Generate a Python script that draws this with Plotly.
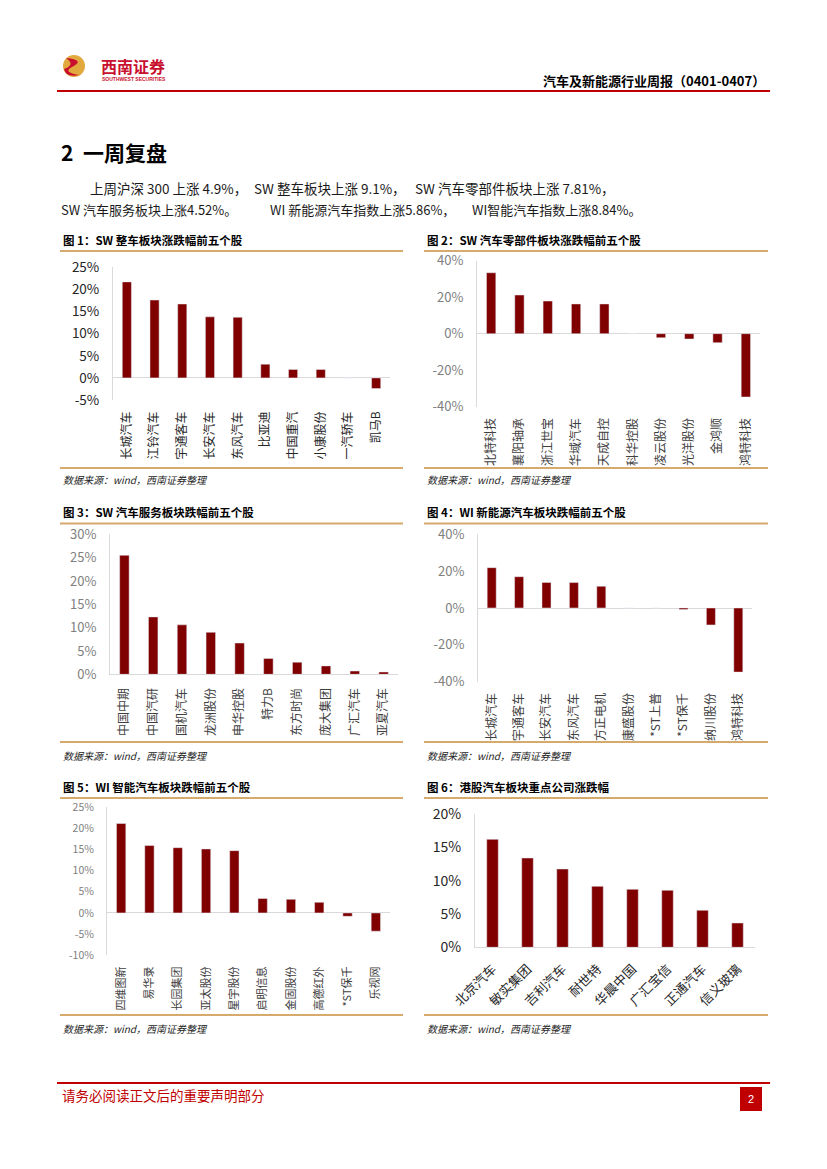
import plotly.graph_objects as go

W, H = 827, 1169

# ---------------- data ----------------
c1_names = ["长城汽车", "江铃汽车", "宇通客车", "长安汽车", "东风汽车", "比亚迪", "中国重汽", "小康股份", "一汽轿车", "凯马B"]
c1_vals = [21.7, 17.6, 16.7, 13.8, 13.7, 3.1, 1.9, 1.9, 0.0, -2.4]

c2_names = ["北特科技", "襄阳轴承", "浙江世宝", "华域汽车", "天成自控", "科华控股", "凌云股份", "光洋股份", "金鸿顺", "鸿特科技"]
c2_vals = [33.4, 21.2, 17.9, 16.3, 16.3, 0.0, -2.2, -2.9, -4.9, -34.7]

c3_names = ["中国中期", "中国汽研", "国机汽车", "龙洲股份", "申华控股", "特力B", "东方时尚", "庞大集团", "广汇汽车", "亚夏汽车"]
c3_vals = [25.5, 12.3, 10.6, 9.0, 6.7, 3.4, 2.6, 1.8, 0.7, 0.5]

c4_names = ["长城汽车", "宇通客车", "长安汽车", "东风汽车", "方正电机", "康盛股份", "*ST上普", "*ST保千", "纳川股份", "鸿特科技"]
c4_vals = [21.9, 17.0, 13.9, 13.8, 11.8, 0.0, 0.0, -0.8, -9.2, -34.8]

c5_names = ["四维图新", "易华录", "长园集团", "亚太股份", "星宇股份", "启明信息", "金固股份", "高德红外", "*ST保千", "乐视网"]
c5_vals = [21.1, 15.9, 15.4, 15.1, 14.7, 3.4, 3.2, 2.5, -0.8, -4.3]

c6_names = ["北京汽车", "敏实集团", "吉利汽车", "耐世特", "华晨中国", "广汇宝信", "正通汽车", "信义玻璃"]
c6_vals = [16.2, 13.4, 11.75, 9.15, 8.7, 8.55, 5.55, 3.65]

y1_ticks = [-5, 0, 5, 10, 15, 20, 25]
y2_ticks = [-40, -20, 0, 20, 40]
y3_ticks = [0, 5, 10, 15, 20, 25, 30]
y4_ticks = [-40, -20, 0, 20, 40]
y5_ticks = [-10, -5, 0, 5, 10, 15, 20, 25]
y6_ticks = [0, 5, 10, 15, 20]

chart_titles = [
    "图 1：SW 整车板块涨跌幅前五个股",
    "图 2：SW 汽车零部件板块涨跌幅前五个股",
    "图 3：SW 汽车服务板块跌幅前五个股",
    "图 4：WI 新能源汽车板块跌幅前五个股",
    "图 5：WI 智能汽车板块跌幅前五个股",
    "图 6：港股汽车板块重点公司涨跌幅",
]
source_text = "数据来源：wind，西南证券整理"

# ---------------- helpers ----------------
FONT = "Noto Sans CJK SC"
BAR = "#800000"
AXIS = "#d9d9d9"
GOLD = "#D6AA6C"
RED = "#C00000"


def px(x):
    return x / W


def py(y):
    return 1 - y / H


fig = go.Figure()

charts = [
    (c1_names, c1_vals, y1_ticks, 113, 390, 267.3, 400.0, 12, "#262626", 13.5, "#262626", -90),
    (c2_names, c2_vals, y2_ticks, 477, 760, 260.7, 406.7, 12, "#404040", 13, "#808080", -90),
    (c3_names, c3_vals, y3_ticks, 110, 398, 534.3, 674.3, 12, "#404040", 13, "#808080", -90),
    (c4_names, c4_vals, y4_ticks, 478, 752, 534.3, 681.7, 12, "#404040", 13, "#808080", -90),
    (c5_names, c5_vals, y5_ticks, 107, 390, 807.0, 955.3, 11, "#404040", 10.5, "#808080", -90),
    (c6_names, c6_vals, y6_ticks, 475, 755, 814.0, 947.3, 13, "#262626", 14, "#262626", -45),
]

layout_axes = {}
for i, (names, vals, ticks, x0, x1, yt, yb, xf, xc, yf, yc, ang) in enumerate(charts, start=1):
    sx = "" if i == 1 else str(i)
    fig.add_trace(go.Bar(
        x=names, y=vals, marker_color=BAR, xaxis="x" + sx, yaxis="y" + sx,
        showlegend=False, hoverinfo="skip",
    ))
    bottom_zero = min(ticks) == 0
    layout_axes["xaxis" + sx] = dict(
        domain=[px(x0), px(x1)], anchor="y" + sx, type="category",
        range=[-0.5, len(names) - 0.5], tickangle=ang,
        tickfont=dict(family=FONT, size=xf, color=xc),
        showline=bottom_zero, linecolor=AXIS, linewidth=1, automargin=False,
        showgrid=False, ticks="", ticklabelstandoff=8, fixedrange=True,
    )
    layout_axes["yaxis" + sx] = dict(
        domain=[py(yb), py(yt)], anchor="x" + sx,
        range=[min(ticks), max(ticks)], tickvals=ticks,
        ticktext=[f"{t}%" for t in ticks],
        tickfont=dict(family=FONT, size=yf, color=yc),
        showline=True, linecolor=AXIS, linewidth=1, automargin=False,
        zeroline=True, zerolinecolor=AXIS, zerolinewidth=1,
        showgrid=False, ticks="", ticklabelstandoff=10, fixedrange=True,
    )

shapes = []
annotations = []

# header
shapes.append(dict(type="line", xref="paper", yref="paper", x0=px(57), x1=px(770), y0=py(91), y1=py(91),
                   line=dict(color=RED, width=2)))
shapes.append(dict(type="circle", xref="paper", yref="paper", x0=px(63), x1=px(85), y0=py(77), y1=py(55),
                   fillcolor="#E2A93E", line=dict(width=0)))
shapes.append(dict(type="path", xref="paper", yref="paper",
                   path=f"M {px(66)},{py(58)} Q {px(86)},{py(60)} {px(72)},{py(67)} Q {px(62)},{py(72)} {px(79)},{py(75)} "
                        f"Q {px(66)},{py(78)} {px(64)},{py(69)} Q {px(76)},{py(65)} {px(66)},{py(58)} Z",
                   fillcolor="#C8102E", line=dict(width=0)))
annotations.append(dict(text="西南证券", x=px(99), y=py(66), xref="paper", yref="paper", xanchor="left",
                        yanchor="middle", showarrow=False,
                        font=dict(family=FONT, size=16, color="#C8102E", weight="bold")))
annotations.append(dict(text="SOUTHWEST SECURITIES", x=px(100), y=py(79), xref="paper", yref="paper",
                        xanchor="left", yanchor="middle", showarrow=False,
                        font=dict(family="Liberation Sans", size=5, color="#C8102E", weight="bold")))
annotations.append(dict(text="汽车及新能源行业周报（0401-0407）", x=px(767), y=py(81), xref="paper", yref="paper",
                        xanchor="right", yanchor="middle", showarrow=False,
                        font=dict(family=FONT, size=13, color="#000000", weight="bold")))

annotations.append(dict(text="2  一周复盘", x=px(59), y=py(152), xref="paper", yref="paper", xanchor="left",
                        yanchor="middle", showarrow=False,
                        font=dict(family=FONT, size=21, color="#000000", weight="bold")))
para = [
    ("上周沪深 300 上涨 4.9%，", 88, 188, 13.5), ("SW 整车板块上涨 9.1%，", 252, 188, 13.5),
    ("SW 汽车零部件板块上涨 7.81%，", 413, 188, 13.5),
    ("SW 汽车服务板块上涨4.52%。", 59, 209, 13), ("WI 新能源汽车指数上涨5.86%，", 268, 209, 13),
    ("WI智能汽车指数上涨8.84%。", 470, 209, 13),
]
for t, x, y, fs in para:
    annotations.append(dict(text=t, x=px(x), y=py(y), xref="paper", yref="paper", xanchor="left",
                            yanchor="middle", showarrow=False,
                            font=dict(family=FONT, size=fs, color="#1a1a1a")))

rows = [(240, 251, 468, 479.5), (512, 523.5, 742, 755), (787, 798, 1015, 1028)]
cols = [(60, 403), (424, 768)]
k = 0
for (ty, l1, l2, sy) in rows:
    for (cx0, cx1) in cols:
        annotations.append(dict(text=chart_titles[k], x=px(cx0 + 1), y=py(ty), xref="paper", yref="paper",
                                xanchor="left", yanchor="middle", showarrow=False,
                                font=dict(family=FONT, size=11.5, color="#000000", weight="bold")))
        annotations.append(dict(text=source_text, x=px(cx0 + 1), y=py(sy), xref="paper", yref="paper",
                                xanchor="left", yanchor="middle", showarrow=False,
                                font=dict(family=FONT, size=10, color="#262626", style="italic")))
        for ly in (l1, l2):
            shapes.append(dict(type="line", xref="paper", yref="paper", x0=px(cx0), x1=px(cx1),
                               y0=py(ly), y1=py(ly), line=dict(color=GOLD, width=2)))
        k += 1

shapes.append(dict(type="line", xref="paper", yref="paper", x0=px(57), x1=px(770), y0=py(1083), y1=py(1083),
                   line=dict(color=RED, width=2)))
annotations.append(dict(text="请务必阅读正文后的重要声明部分", x=px(60), y=py(1095), xref="paper", yref="paper",
                        xanchor="left", yanchor="middle", showarrow=False,
                        font=dict(family=FONT, size=13.5, color=RED)))
shapes.append(dict(type="rect", xref="paper", yref="paper", x0=px(740), x1=px(762), y0=py(1111), y1=py(1087),
                   fillcolor=RED, line=dict(width=0)))
annotations.append(dict(text="2", x=px(751), y=py(1099), xref="paper", yref="paper", xanchor="center",
                        yanchor="middle", showarrow=False,
                        font=dict(family="Liberation Sans", size=11, color="#ffffff")))

fig.update_layout(
    width=W, height=H, margin=dict(l=0, r=0, t=0, b=0, pad=0), autosize=False,
    paper_bgcolor="white", plot_bgcolor="white",
    bargap=0.67, shapes=shapes, annotations=annotations,
    font=dict(family=FONT), **layout_axes,
)

fig.write_html("out.html", config={"displayModeBar": False, "staticPlot": True},
               post_script="document.body.style.margin='0';")
